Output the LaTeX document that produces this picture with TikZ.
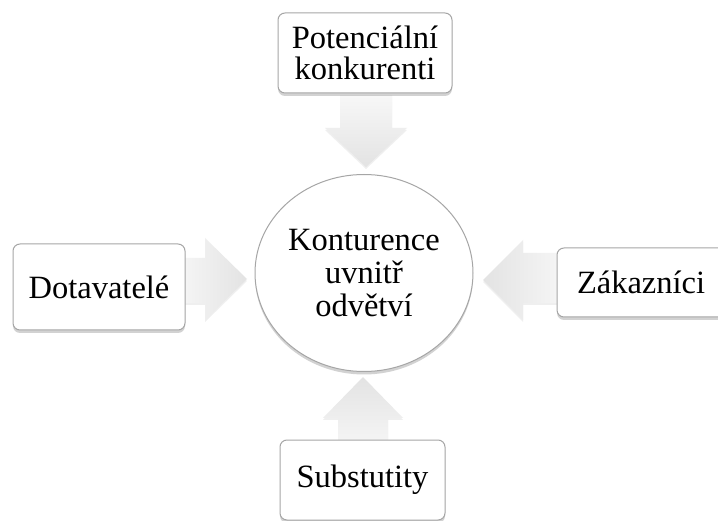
\documentclass[tikz,border=0pt]{standalone}
\usepackage{fontspec}
\setmainfont{Liberation Serif}
\usetikzlibrary{shapes.geometric,shadows}
\tikzset{
  box/.style={draw=gray!70, line width=1pt, rounded corners=7pt, fill=white, align=center,
    font=\fontsize{32.5}{31}\selectfont, inner sep=0pt,
    drop shadow={opacity=0.35, shadow xshift=0pt, shadow yshift=-3pt, fill=gray}},
  hub/.style={ellipse, draw=gray!70, line width=1pt, fill=white, align=center,
    font=\fontsize{32.5}{33}\selectfont, inner sep=0pt,
    drop shadow={opacity=0.35, shadow xshift=0pt, shadow yshift=-3pt, fill=gray}},
  blockarrow/.style={draw=none, drop shadow={opacity=0.12, shadow xshift=0pt, shadow yshift=-2pt, fill=gray}}
}
\begin{document}
\begin{tikzpicture}[x=1pt,y=-1pt]
\useasboundingbox (0,0) rectangle (718,521);
\clip (0,0) rectangle (718,521);
\fill[white] (0,0) rectangle (718,521);
% arrows
\path[blockarrow, top color=gray!6, bottom color=gray!22]
  (340,95) -- (392,95) -- (392,128) -- (407,128) -- (366,167) -- (325,128) -- (340,128) -- cycle;
\path[blockarrow, left color=gray!8, right color=gray!22]
  (183,258) -- (205,258) -- (205,238) -- (247,279) -- (205,320) -- (205,303) -- (183,303) -- cycle;
\path[blockarrow, right color=gray!8, left color=gray!22]
  (559,253) -- (523,253) -- (523,240) -- (483,280) -- (523,320) -- (523,303) -- (559,303) -- cycle;
\path[blockarrow, bottom color=gray!8, top color=gray!22]
  (338,442) -- (338,418) -- (323,418) -- (363,377) -- (403,418) -- (388,418) -- (388,442) -- cycle;
% nodes
\node[hub, minimum width=218pt, minimum height=197pt] (c) at (364,273) {Konturence\\uvnitř\\odvětví};
\node[box, minimum width=174pt, minimum height=80pt] (t) at (365,53) {Potenciální\\konkurenti};
\node[box, minimum width=172pt, minimum height=86pt] (l) at (99,287) {Dotavatelé};
\node[box, minimum width=180pt, minimum height=69pt, text width=162pt, align=left] (r) at (647,282.5) {\hspace*{11pt}Zákazníci};
\node[box, minimum width=165pt, minimum height=80pt] (b) at (362.5,480) {Substutity};
\end{tikzpicture}
\end{document}
